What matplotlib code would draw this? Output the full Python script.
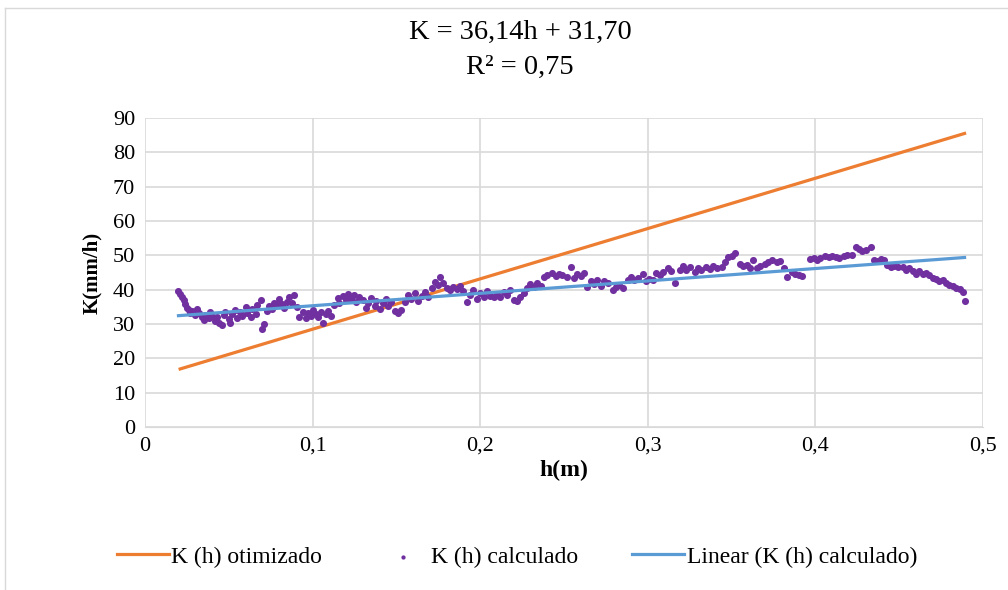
import matplotlib
matplotlib.use("Agg")
import matplotlib.pyplot as plt
from matplotlib.lines import Line2D
from matplotlib.ticker import FuncFormatter

plt.rcParams['font.family'] = ['Liberation Serif', 'DejaVu Serif']

# K (h) calculado
h_calc = [0.020, 0.021, 0.022, 0.023, 0.024, 0.025, 0.026, 0.027, 0.028, 0.030,
          0.031, 0.032, 0.034, 0.035, 0.036, 0.038, 0.039, 0.040, 0.042, 0.043,
          0.044, 0.046, 0.047, 0.048, 0.050, 0.051, 0.052, 0.054, 0.055, 0.057,
          0.058, 0.060, 0.061, 0.063, 0.064, 0.066, 0.067, 0.069, 0.070, 0.071,
          0.073, 0.074, 0.076, 0.077, 0.079, 0.080, 0.082, 0.083, 0.085, 0.086,
          0.088, 0.089, 0.091, 0.092, 0.094,
          0.096, 0.097, 0.099, 0.100, 0.102, 0.103, 0.105, 0.106, 0.108, 0.109,
          0.111, 0.113, 0.115, 0.116, 0.118, 0.120, 0.121, 0.123, 0.125, 0.126,
          0.128, 0.130, 0.132, 0.133, 0.135, 0.137, 0.138, 0.140, 0.142, 0.144,
          0.145, 0.147, 0.149, 0.151, 0.153, 0.155, 0.157, 0.159, 0.161, 0.163,
          0.165, 0.167, 0.169, 0.171, 0.173, 0.175, 0.176, 0.178,
          0.180, 0.182, 0.184, 0.186, 0.188, 0.190, 0.192, 0.194, 0.196, 0.198,
          0.200, 0.202, 0.204, 0.206, 0.208, 0.210, 0.212, 0.214, 0.216, 0.218,
          0.220, 0.222, 0.224, 0.226, 0.228, 0.230, 0.232, 0.234, 0.236, 0.238,
          0.240, 0.243, 0.245, 0.247, 0.249, 0.252, 0.254, 0.256, 0.258, 0.260,
          0.262, 0.264, 0.266, 0.268, 0.270, 0.272, 0.274, 0.276, 0.279, 0.281,
          0.283, 0.285, 0.288, 0.290, 0.292, 0.294, 0.297, 0.299, 0.301, 0.303,
          0.305, 0.307, 0.309, 0.312, 0.314, 0.316, 0.319, 0.321, 0.323, 0.325,
          0.328, 0.330, 0.332, 0.335, 0.337,
          0.339, 0.341, 0.344, 0.346, 0.348, 0.350, 0.352, 0.355, 0.357, 0.359,
          0.361, 0.363, 0.365, 0.367, 0.370, 0.372, 0.374, 0.377, 0.379, 0.381,
          0.383, 0.386, 0.388, 0.390, 0.392, 0.397, 0.399, 0.401, 0.403, 0.406,
          0.408, 0.410, 0.412, 0.414, 0.417, 0.419,
          0.422, 0.424, 0.426, 0.428, 0.430, 0.433, 0.435, 0.437, 0.439, 0.441,
          0.443, 0.445, 0.447, 0.449, 0.452, 0.454, 0.456, 0.458, 0.460, 0.462,
          0.464, 0.466, 0.468, 0.470, 0.472, 0.474, 0.476, 0.478, 0.480, 0.482,
          0.484, 0.486, 0.488, 0.489]
k_calc = [39.5, 38.6, 37.8, 36.9, 35.7, 34.8, 34.2, 33.3, 33.9, 32.6,
          34.5, 33.1, 32.0, 31.2, 32.7, 31.6, 33.4, 32.2, 30.8, 31.9,
          30.2, 29.8, 32.5, 33.6, 31.4, 30.4, 33.0, 34.2, 31.8, 33.5,
          32.4, 34.9, 33.2, 32.0, 34.4, 33.0, 35.6, 36.9, 28.6, 30.0,
          33.8, 35.2, 34.5, 36.2, 35.4, 37.3, 35.8, 34.6, 36.3, 37.9,
          36.0, 38.4, 35.0, 32.0, 33.4,
          31.8, 33.2, 32.4, 34.1, 33.0, 31.9, 33.5, 30.4, 32.8, 33.9,
          32.2, 35.4, 37.6, 36.2, 38.1, 36.9, 38.8, 37.4, 38.3, 36.5,
          37.9, 37.0, 34.6, 36.0, 37.6, 35.3, 36.8, 34.4, 36.1, 37.3,
          35.1, 36.5, 33.7, 33.3, 34.2, 36.4, 38.5, 37.2, 39.0, 36.8,
          38.2, 39.2, 38.0, 40.6, 42.2, 41.3, 43.6, 42.0,
          40.4, 39.8, 40.9, 40.3, 41.0, 39.6, 36.3, 38.4, 39.9, 37.2,
          38.9, 37.8, 39.5, 38.2, 37.9, 38.8, 38.0, 39.4, 38.5, 39.8,
          37.1, 36.6, 37.8, 39.0, 40.6, 41.7, 40.9, 42.0, 41.2, 43.6,
          44.4, 44.8, 43.9, 44.6, 44.2, 43.8, 46.6, 43.4, 44.6, 43.9,
          44.8, 40.8, 42.5, 41.7, 42.8, 41.2, 42.4, 41.9, 40.0, 40.9,
          41.3, 40.6, 42.8, 43.6, 42.9, 43.5, 44.7, 42.4, 43.2, 42.7,
          44.9, 44.2, 45.0, 46.4, 45.3, 42.0, 45.8, 46.9, 45.6, 46.7,
          45.1, 46.2, 45.6, 46.5, 46.0,
          46.9, 46.2, 46.7, 48.0, 49.4, 49.8, 50.6, 47.6, 47.0, 47.3,
          46.4, 48.6, 46.4, 46.8, 47.4, 48.2, 48.6, 48.1, 48.4, 46.4,
          43.8, 45.2, 44.6, 44.3, 44.0, 48.8, 49.1, 48.6, 49.3, 49.8,
          49.6, 49.9, 49.4, 49.1, 49.7, 50.2,
          50.0, 52.4, 51.9, 51.4, 51.6, 52.3, 48.6, 48.3, 49.0, 48.5,
          47.2, 46.6, 47.0, 46.5, 46.6, 45.8, 46.2, 45.5, 44.5, 45.3,
          44.6, 44.8, 44.2, 43.5, 43.1, 42.6, 42.8, 42.0, 41.4, 41.0,
          40.6, 40.1, 39.3, 36.6]

# K (h) otimizado (straight line between its ends)
h_otim = [0.021, 0.489]
k_otim = [16.9, 85.5]

# linear trend from the chart's equation
slope = 36.14
intercept = 31.70

fig = plt.figure(figsize=(10.08, 5.9), dpi=100)
ax = fig.add_axes([0.1438, 0.2763, 0.8314, 0.5237])

ax.plot(h_otim, k_otim, color='#ED7D31', lw=2.3, label='K (h) otimizado', zorder=2)
ax.scatter(h_calc, k_calc, s=26, color='#7030A0', lw=0, label='K (h) calculado', zorder=3)
h_fit = [min(h_calc), max(h_calc)]
k_fit = [slope * x + intercept for x in h_fit]
ax.plot(h_fit, k_fit, color='#5B9BD5', lw=2.3, label='Linear (K (h) calculado)', zorder=4)

ax.set_xlim(0, 0.5)
ax.set_ylim(0, 90)
ax.set_xticks([0, 0.1, 0.2, 0.3, 0.4, 0.5])
ax.set_yticks(range(0, 91, 10))
ax.xaxis.set_major_formatter(FuncFormatter(lambda v, p: ('%g' % round(v, 2)).replace('.', ',')))
ax.grid(True, color='#d9d9d9', lw=1.2)
ax.set_axisbelow(True)
for s in ax.spines.values():
    s.set_visible(False)
ax.spines['bottom'].set_visible(True)
ax.spines['bottom'].set_color('#d9d9d9')
ax.tick_params(length=0, labelsize=16, pad=7)

ax.set_xlabel('h(m)', fontsize=17, fontweight='bold', labelpad=3)
ax.set_ylabel('K(mm/h)', fontsize=15, fontweight='bold', labelpad=8)

fig.text(0.516, 0.945, 'K = 36,14h + 31,70', ha='center', va='center', fontsize=20.5)
fig.text(0.516, 0.886, 'R² = 0,75', ha='center', va='center', fontsize=20.5)

fig.legend(loc='center', bbox_to_anchor=(0.513, 0.056), ncol=3, frameon=False,
           fontsize=17, handlelength=2.2, handletextpad=0.1, columnspacing=2.3,
           markerscale=0.6)

# chart border
fig.add_artist(Line2D([5 / 1008, 5 / 1008], [0, 1 - 8 / 590], color='#d9d9d9', lw=1))
fig.add_artist(Line2D([5 / 1008, 1], [1 - 8 / 590, 1 - 8 / 590], color='#d9d9d9', lw=1))

fig.savefig('out.png', dpi=100)
